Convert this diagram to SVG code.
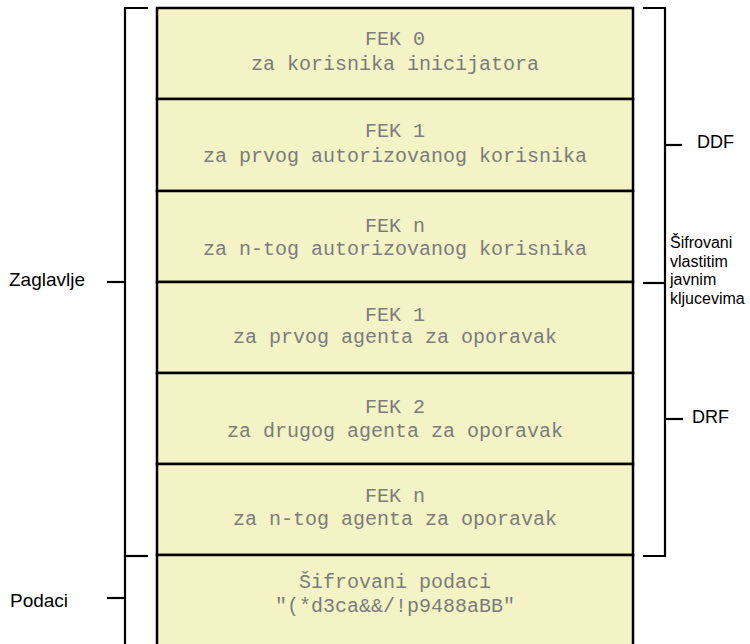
<svg xmlns="http://www.w3.org/2000/svg" width="750" height="644" viewBox="0 0 750 644">
  <style>
    .cell { fill: #f3f3c5; stroke: #000; stroke-width: 2.5; }
    .mono { font-family: "Liberation Mono", "Courier New", monospace; font-size: 20px; fill: #7c7c7c; text-anchor: middle; }
    .lbl { font-family: "Liberation Sans", Arial, sans-serif; font-size: 18px; fill: #000; }
    .side { font-family: "Liberation Sans", Arial, sans-serif; font-size: 19px; fill: #000; }
    .small { font-family: "Liberation Sans", Arial, sans-serif; font-size: 16px; fill: #000; }
    .br { fill: none; stroke: #000; stroke-width: 2.2; }
  </style>
  <rect width="750" height="644" fill="#ffffff"/>

  <!-- stacked record cells -->
  <g id="fek0">
    <rect class="cell" x="157" y="8" width="476" height="91"/>
    <text class="mono" x="395" y="45">FEK 0</text>
    <text class="mono" x="395" y="70">za korisnika inicijatora</text>
  </g>
  <g id="fek1-user">
    <rect class="cell" x="157" y="99" width="476" height="92"/>
    <text class="mono" x="395" y="137">FEK 1</text>
    <text class="mono" x="395" y="162">za prvog autorizovanog korisnika</text>
  </g>
  <g id="fekn-user">
    <rect class="cell" x="157" y="191" width="476" height="91"/>
    <text class="mono" x="395" y="232">FEK n</text>
    <text class="mono" x="395" y="255">za n-tog autorizovanog korisnika</text>
  </g>
  <g id="fek1-agent">
    <rect class="cell" x="157" y="282" width="476" height="91"/>
    <text class="mono" x="395" y="321">FEK 1</text>
    <text class="mono" x="395" y="343">za prvog agenta za oporavak</text>
  </g>
  <g id="fek2-agent">
    <rect class="cell" x="157" y="373" width="476" height="91"/>
    <text class="mono" x="395" y="413">FEK 2</text>
    <text class="mono" x="395" y="437">za drugog agenta za oporavak</text>
  </g>
  <g id="fekn-agent">
    <rect class="cell" x="157" y="464" width="476" height="91"/>
    <text class="mono" x="395" y="502">FEK n</text>
    <text class="mono" x="395" y="525">za n-tog agenta za oporavak</text>
  </g>
  <g id="data">
    <rect class="cell" x="157" y="555" width="476" height="100"/>
    <text class="mono" x="395" y="588">Šifrovani podaci</text>
    <text class="mono" x="395" y="612">"(*d3ca&amp;&amp;/!p9488aBB"</text>
  </g>

  <!-- brackets -->
  <g id="brackets">
    <path class="br" d="M148 8 H125 V644"/>
    <path class="br" d="M107 282 H125"/>
    <path class="br" d="M125 556 H148"/>
    <path class="br" d="M107 598 H125"/>
    <path class="br" d="M643 8 H665 V556 H643"/>
    <path class="br" d="M643 283 H665"/>
    <path class="br" d="M665 145 H682"/>
    <path class="br" d="M665 419 H683"/>
  </g>

  <!-- side labels -->
  <g id="labels">
    <text class="side" x="9" y="286">Zaglavlje</text>
    <text class="side" x="10" y="607">Podaci</text>
    <text class="lbl" x="697" y="148">DDF</text>
    <text class="lbl" x="692" y="423">DRF</text>
    <text class="small" x="670" y="248">Šifrovani</text>
    <text class="small" x="670" y="267">vlastitim</text>
    <text class="small" x="670" y="285">javnim</text>
    <text class="small" x="670" y="304">kljucevima</text>
  </g>
</svg>
